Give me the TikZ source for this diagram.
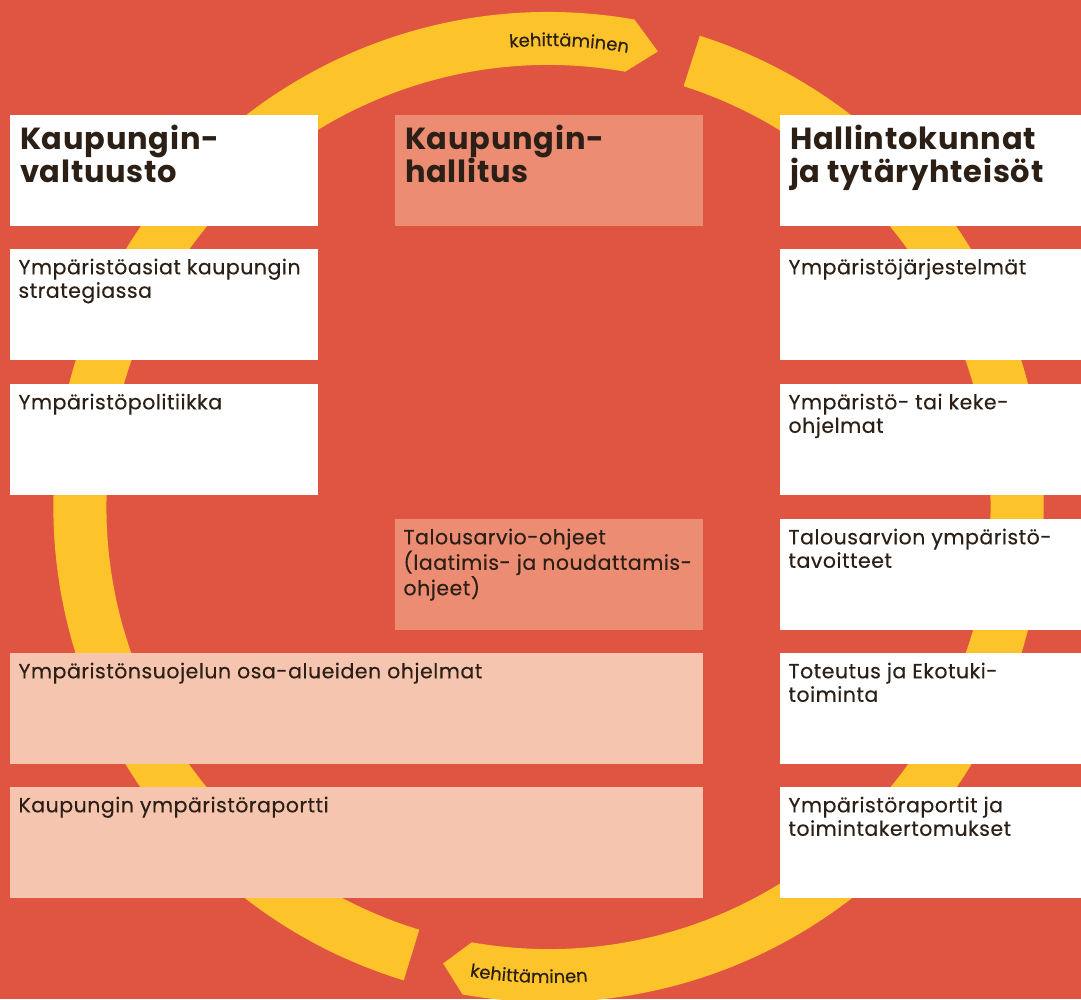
\documentclass[tikz,border=0pt]{standalone}
\usepackage{fontspec}
\setmainfont{Poppins}
\newfontfamily\bodyfont{Poppins}[LetterSpace=2.5, FakeBold=0.25]
\newfontfamily\headfont{Poppins}[LetterSpace=2.5]
\usetikzlibrary{decorations.text}
\definecolor{bgred}{RGB}{224,84,66}
\definecolor{ringyel}{RGB}{252,195,42}
\definecolor{salmon}{RGB}{236,140,115}
\definecolor{pale}{RGB}{246,197,176}
\definecolor{ink}{RGB}{43,31,22}
\newcommand\kfont{\bodyfont\fontsize{18}{18}\selectfont}
\newcommand\hstr{\rule{0pt}{34pt}}
\newcommand\bstr{\rule{0pt}{25.3pt}}
\begin{document}
\begin{tikzpicture}[x=1pt,y=-1pt,
  box/.style={draw=none, inner sep=0pt, outer sep=0pt, anchor=north west, minimum height=110.5pt},
  lbox/.style={box, fill=white, minimum width=308pt},
  rbox/.style={box, fill=white, minimum width=301pt},
  sbox/.style={box, fill=salmon, minimum width=308pt},
  pbox/.style={box, fill=pale, minimum width=693pt},
  hdr/.style={anchor=north west, inner sep=0pt, outer sep=0pt, align=left, text=ink, font=\headfont\bfseries\fontsize{30.5}{33}\selectfont, xshift=10pt},
  txt/.style={anchor=north west, inner sep=0pt, outer sep=0pt, align=left, text=ink, font=\bodyfont\fontsize{20.5}{23.5}\selectfont, xshift=8.5pt},
  arrowtxt/.style={decorate, decoration={text along path, text align=center, text={|\kfont\color{ink}|kehittäminen}}}
]
\fill[bgred] (0,0) rectangle (1081,999);
\useasboundingbox (0,0) rectangle (1081,999);

% ring
\coordinate (C) at (548.5,507);
\fill[ringyel] ([shift={(253:495pt)}]C) arc[start angle=253, end angle=80, radius=495pt]
  -- ([shift={(76.5:468.5pt)}]C) -- ([shift={(80:442pt)}]C)
  arc[start angle=80, end angle=253, radius=442pt] -- cycle;
\fill[ringyel] ([shift={(72.2:495pt)}]C) arc[start angle=72.2, end angle=-100, radius=495pt]
  -- ([shift={(-103:468.5pt)}]C) -- ([shift={(-100:442pt)}]C)
  arc[start angle=-100, end angle=72.2, radius=442pt] -- cycle;
\path[arrowtxt] ([shift={(102.45:461pt)}]C) arc[start angle=102.45, end angle=72.45, radius=461pt];
\path[arrowtxt] ([shift={(252.6:476pt)}]C) arc[start angle=252.6, end angle=282.6, radius=476pt];

% left column
\node[lbox] (l0) at (10,115) {};
\node[hdr] (l0t) at (l0.north west) {\hstr Kaupungin-\\valtuusto};
\node[lbox] (l1) at (10,249) {};
\node[txt] (l1t) at (l1.north west) {\bstr Ympäristöasiat kaupungin\\strategiassa};
\node[lbox] (l2) at (10,384) {};
\node[txt] (l2t) at (l2.north west) {\bstr Ympäristöpolitiikka};

% middle column
\node[sbox] (m0) at (395,115) {};
\node[hdr] (m0t) at (m0.north west) {\hstr Kaupungin-\\hallitus};
\node[sbox] (m3) at (395,519) {};
\node[txt] (m3t) at (m3.north west) {\bstr Talousarvio-ohjeet\\(laatimis- ja noudattamis-\\ohjeet)};

% wide boxes
\node[pbox] (w4) at (10,653) {};
\node[txt] (w4t) at (w4.north west) {\bstr Ympäristönsuojelun osa-alueiden ohjelmat};
\node[pbox] (w5) at (10,787) {};
\node[txt] (w5t) at (w5.north west) {\bstr Kaupungin ympäristöraportti};

% right column
\node[rbox] (r0) at (780,115) {};
\node[hdr] (r0t) at (r0.north west) {\hstr Hallintokunnat\\ja tytäryhteisöt};
\node[rbox] (r1) at (780,249) {};
\node[txt] (r1t) at (r1.north west) {\bstr Ympäristöjärjestelmät};
\node[rbox] (r2) at (780,384) {};
\node[txt] (r2t) at (r2.north west) {\bstr Ympäristö- tai keke-\\ohjelmat};
\node[rbox] (r3) at (780,519) {};
\node[txt] (r3t) at (r3.north west) {\bstr Talousarvion ympäristö-\\tavoitteet};
\node[rbox] (r4) at (780,653) {};
\node[txt] (r4t) at (r4.north west) {\bstr Toteutus ja Ekotuki-\\toiminta};
\node[rbox] (r5) at (780,787) {};
\node[txt] (r5t) at (r5.north west) {\bstr Ympäristöraportit ja\\toimintakertomukset};
\end{tikzpicture}
\end{document}
